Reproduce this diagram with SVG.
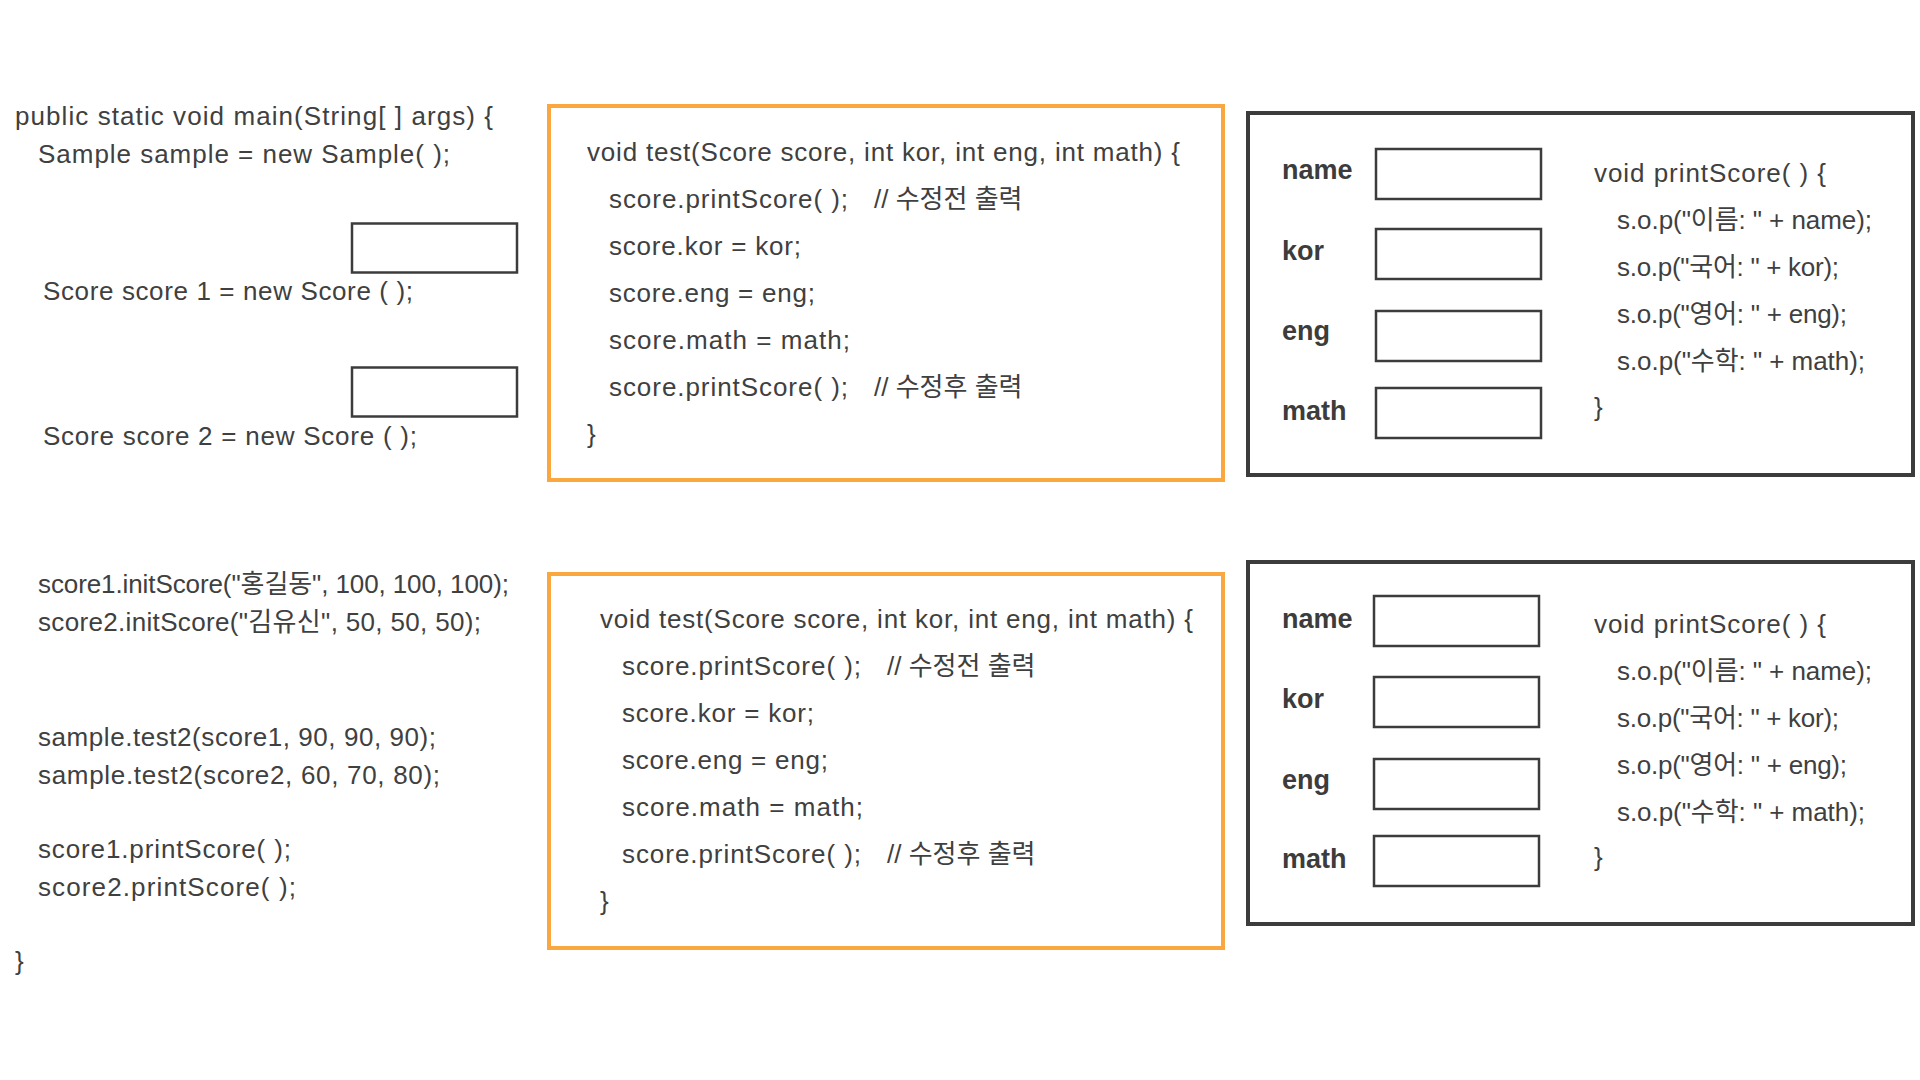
<svg xmlns="http://www.w3.org/2000/svg" width="1920" height="1080" viewBox="0 0 1920 1080">
  <style>
    text { font-family: "Liberation Sans", "Noto Sans CJK KR", sans-serif; fill: #404040; }
    .m { font-size: 26px; }
    .c { font-size: 26px; }
    .lbl { font-size: 27px; font-weight: bold; fill: #3c3c3c; }
    .slot { fill: #ffffff; stroke: #3c3c3c; stroke-width: 2.5; }
    .orange { fill: #ffffff; stroke: #F9A73E; stroke-width: 4; }
    .frame { fill: #ffffff; stroke: #3c3c3c; stroke-width: 4; }
  </style>
  <rect x="0" y="0" width="1920" height="1080" fill="#ffffff"/>

  <g id="main-method">
    <text class="m" x="15" y="125" textLength="478">public static void main(String[ ] args) {</text>
    <text class="m" x="38" y="163" textLength="412">Sample sample = new Sample( );</text>
    <rect class="slot" x="352" y="223.5" width="165" height="49"/>
    <text class="m" x="43" y="300" textLength="370">Score score 1 = new Score ( );</text>
    <rect class="slot" x="352" y="367.5" width="165" height="49"/>
    <text class="m" x="43" y="445" textLength="374">Score score 2 = new Score ( );</text>
    <text class="m" x="38" y="593" textLength="471">score1.initScore("홍길동", 100, 100, 100);</text>
    <text class="m" x="38" y="631" textLength="443">score2.initScore("김유신", 50, 50, 50);</text>
    <text class="m" x="38" y="746" textLength="398">sample.test2(score1, 90, 90, 90);</text>
    <text class="m" x="38" y="784" textLength="402">sample.test2(score2, 60, 70, 80);</text>
    <text class="m" x="38" y="858" textLength="253">score1.printScore( );</text>
    <text class="m" x="38" y="896" textLength="258">score2.printScore( );</text>
    <text class="m" x="15" y="970">}</text>
  </g>

  <g id="test-method-1">
    <rect class="orange" x="549" y="106" width="674" height="374"/>
    <text class="c" x="587" y="161" textLength="593">void test(Score score, int kor, int eng, int math) {</text>
    <text class="c" x="609" y="208" textLength="239">score.printScore( );</text>
    <text class="c" x="874" y="208">// 수정전 출력</text>
    <text class="c" x="609" y="255" textLength="192">score.kor = kor;</text>
    <text class="c" x="609" y="302" textLength="206">score.eng = eng;</text>
    <text class="c" x="609" y="349" textLength="241">score.math = math;</text>
    <text class="c" x="609" y="396" textLength="239">score.printScore( );</text>
    <text class="c" x="874" y="396">// 수정후 출력</text>
    <text class="c" x="587" y="443">}</text>
  </g>

  <g id="test-method-2">
    <rect class="orange" x="549" y="574" width="674" height="374"/>
    <text class="c" x="600" y="628" textLength="593">void test(Score score, int kor, int eng, int math) {</text>
    <text class="c" x="622" y="675" textLength="239">score.printScore( );</text>
    <text class="c" x="887" y="675">// 수정전 출력</text>
    <text class="c" x="622" y="722" textLength="192">score.kor = kor;</text>
    <text class="c" x="622" y="769" textLength="206">score.eng = eng;</text>
    <text class="c" x="622" y="816" textLength="241">score.math = math;</text>
    <text class="c" x="622" y="863" textLength="239">score.printScore( );</text>
    <text class="c" x="887" y="863">// 수정후 출력</text>
    <text class="c" x="600" y="910">}</text>
  </g>

  <g id="score-object-1">
    <rect class="frame" x="1248" y="113" width="665" height="362"/>
    <text class="lbl" x="1282" y="179">name</text>
    <rect class="slot" x="1376" y="149" width="165" height="50"/>
    <text class="lbl" x="1282" y="260">kor</text>
    <rect class="slot" x="1376" y="229" width="165" height="50"/>
    <text class="lbl" x="1282" y="340">eng</text>
    <rect class="slot" x="1376" y="311" width="165" height="50"/>
    <text class="lbl" x="1282" y="420">math</text>
    <rect class="slot" x="1376" y="388" width="165" height="50"/>
    <text class="c" x="1594" y="182" textLength="232">void printScore( ) {</text>
    <text class="c" x="1617" y="229" textLength="255">s.o.p("이름: " + name);</text>
    <text class="c" x="1617" y="276" textLength="222">s.o.p("국어: " + kor);</text>
    <text class="c" x="1617" y="323" textLength="230">s.o.p("영어: " + eng);</text>
    <text class="c" x="1617" y="370" textLength="248">s.o.p("수학: " + math);</text>
    <text class="c" x="1594" y="416">}</text>
  </g>

  <g id="score-object-2">
    <rect class="frame" x="1248" y="562" width="665" height="362"/>
    <text class="lbl" x="1282" y="628">name</text>
    <rect class="slot" x="1374" y="596" width="165" height="50"/>
    <text class="lbl" x="1282" y="708">kor</text>
    <rect class="slot" x="1374" y="677" width="165" height="50"/>
    <text class="lbl" x="1282" y="789">eng</text>
    <rect class="slot" x="1374" y="759" width="165" height="50"/>
    <text class="lbl" x="1282" y="868">math</text>
    <rect class="slot" x="1374" y="836" width="165" height="50"/>
    <text class="c" x="1594" y="633" textLength="232">void printScore( ) {</text>
    <text class="c" x="1617" y="680" textLength="255">s.o.p("이름: " + name);</text>
    <text class="c" x="1617" y="727" textLength="222">s.o.p("국어: " + kor);</text>
    <text class="c" x="1617" y="774" textLength="230">s.o.p("영어: " + eng);</text>
    <text class="c" x="1617" y="821" textLength="248">s.o.p("수학: " + math);</text>
    <text class="c" x="1594" y="866">}</text>
  </g>

  <g id="connectors"/>
</svg>
